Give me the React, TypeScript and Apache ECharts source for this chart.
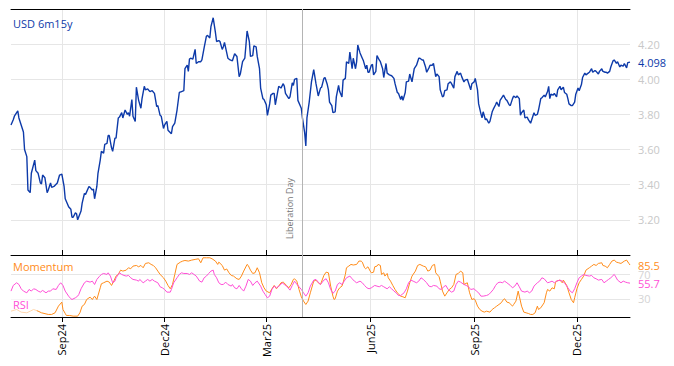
import React, { useEffect, useRef } from "react";
import * as echarts from "echarts";

// ---- data ----
const START_DATE = "2024-07-18"; // day 0 of the series
const END_DAY = 548;
const SERIES_NAME = "USD 6m15y";
const MOMENTUM_NAME = "Momentum";
const RSI_NAME = "RSI";
const quarterTicks = ["2024-09-01", "2024-12-01", "2025-03-01", "2025-06-01", "2025-09-01", "2025-12-01"];
const eventDates = ["2025-04-02"];
const eventLabels = ["Liberation Day"];
const rsiBands = [30, 70];

// [day offset, rate]
const usd: [number, number][] = [
  [0,3.74],[2,3.77],[3,3.79],[4,3.80],[6,3.82],[7,3.78],[9,3.74],[11,3.70],[12,3.60],[14,3.56],
  [15,3.37],[17,3.355],[18,3.465],[21,3.54],[22,3.48],[24,3.465],[26,3.41],[27,3.405],[28,3.455],[30,3.44],
  [32,3.355],[33,3.37],[35,3.41],[36,3.385],[38,3.39],[41,3.41],[43,3.455],[45,3.46],[47,3.39],[48,3.32],
  [50,3.29],[51,3.275],[53,3.26],[54,3.215],[55,3.215],[57,3.24],[58,3.235],[59,3.20],[62,3.25],[63,3.295],
  [65,3.35],[66,3.345],[69,3.39],[70,3.385],[72,3.37],[73,3.375],[74,3.32],[76,3.39],[77,3.465],[79,3.54],
  [80,3.59],[82,3.58],[83,3.63],[85,3.635],[86,3.68],[87,3.68],[89,3.61],[90,3.59],[92,3.665],[93,3.665],
  [95,3.78],[96,3.785],[98,3.81],[99,3.78],[101,3.825],[103,3.80],[104,3.81],[105,3.79],[107,3.885],[108,3.79],
  [110,3.76],[111,3.955],[113,3.88],[115,3.835],[116,3.89],[118,3.96],[119,3.94],[121,3.945],[123,3.93],[125,3.935],
  [127,3.92],[129,3.845],[130,3.85],[132,3.795],[133,3.79],[135,3.72],[136,3.74],[138,3.76],[139,3.71],[142,3.69],
  [143,3.73],[145,3.75],[147,3.825],[149,3.925],[151,3.93],[153,3.935],[154,4.06],[156,4.08],[157,4.045],[158,4.115],
  [159,4.12],[161,4.115],[163,4.17],[164,4.09],[166,4.10],[168,4.10],[169,4.11],[171,4.18],[173,4.245],[174,4.25],
  [176,4.235],[177,4.30],[179,4.35],[181,4.265],[182,4.215],[184,4.22],[185,4.215],[187,4.17],[188,4.185],[189,4.21],
  [192,4.12],[194,4.11],[196,4.105],[198,4.145],[200,4.13],[202,4.015],[203,4.03],[205,4.10],[207,4.12],[208,4.195],
  [209,4.275],[211,4.215],[212,4.13],[214,4.135],[215,4.19],[217,4.185],[218,4.13],[220,4.06],[221,3.95],[223,3.89],
  [224,3.885],[226,3.855],[227,3.795],[229,3.86],[230,3.91],[232,3.92],[233,3.92],[234,3.855],[236,3.925],[237,3.96],
  [239,3.95],[241,3.975],[242,3.96],[243,3.92],[246,3.89],[247,3.90],[249,3.98],[250,3.965],[251,4.00],[253,4.005],
  [254,3.88],[257,3.835],[258,3.78],[260,3.695],[261,3.62],[262,3.78],[264,3.87],[266,3.985],[268,4.055],[270,3.975],
  [272,3.905],[274,3.95],[275,3.955],[277,4.005],[278,4.01],[280,3.97],[281,3.94],[282,3.87],[284,3.85],[285,3.81],
  [287,3.815],[288,3.90],[290,3.965],[291,3.93],[293,3.90],[294,3.995],[296,4.005],[297,4.10],[299,4.09],[300,4.155],
  [302,4.06],[303,4.12],[305,4.06],[306,4.10],[307,4.195],[309,4.15],[311,4.12],[312,4.105],[314,4.06],[315,4.08],
  [316,4.04],[317,4.04],[319,4.08],[320,4.085],[321,4.025],[323,4.045],[324,4.135],[326,4.11],[327,4.10],[329,4.06],
  [330,4.01],[332,4.09],[333,4.035],[335,4.025],[337,4.02],[339,4.005],[340,3.975],[342,3.925],[343,3.92],[345,3.885],
  [346,3.905],[347,3.88],[349,3.925],[350,3.985],[352,3.99],[353,4.03],[355,3.985],[357,4.06],[359,4.08],[361,4.12],
  [362,4.12],[364,4.11],[365,4.11],[367,4.07],[368,4.04],[370,4.065],[371,4.08],[373,4.08],[374,4.09],[376,4.015],
  [377,4.03],[379,4.015],[380,3.94],[382,3.90],[383,3.905],[384,3.935],[386,3.94],[387,3.975],[389,3.985],[390,3.975],
  [392,3.95],[393,4.015],[395,4.045],[396,4.025],[398,4.035],[399,4.015],[401,3.985],[402,3.995],[404,4.00],[405,3.98],
  [407,3.94],[408,3.975],[410,3.985],[411,4.005],[413,3.94],[414,3.86],[416,3.805],[417,3.78],[418,3.815],[420,3.77],
  [421,3.775],[423,3.75],[424,3.76],[426,3.815],[427,3.83],[429,3.855],[430,3.87],[432,3.845],[433,3.88],[435,3.90],
  [436,3.91],[438,3.885],[439,3.88],[441,3.855],[442,3.85],[444,3.89],[445,3.905],[447,3.895],[448,3.905],[450,3.89],
  [451,3.795],[452,3.81],[454,3.825],[455,3.78],[457,3.785],[458,3.77],[460,3.75],[461,3.77],[463,3.81],[464,3.795],
  [466,3.80],[467,3.825],[469,3.89],[470,3.895],[472,3.91],[473,3.90],[475,3.93],[476,3.96],[477,3.89],[478,3.915],
  [480,3.91],[481,3.92],[483,3.90],[484,3.94],[486,3.96],[487,3.94],[489,3.955],[490,3.925],[492,3.915],[493,3.89],
  [494,3.86],[496,3.85],[497,3.85],[499,3.87],[500,3.915],[502,3.95],[503,3.935],[505,3.97],[506,4.01],[508,4.035],
  [509,4.025],[511,4.035],[512,4.04],[514,4.06],[515,4.04],[517,4.05],[518,4.045],[520,4.03],[521,4.045],[523,4.06],
  [524,4.045],[526,4.04],[527,4.04],[528,4.035],[530,4.045],[531,4.07],[533,4.105],[534,4.11],[536,4.09],[537,4.10],
  [539,4.07],[540,4.08],[542,4.075],[543,4.09],[545,4.065],[546,4.095],[548,4.098],
];

const momentum: [number, number][] = [
  [0,9.6],[5,12.4],[9,8],[14,6.9],[17,9.6],[20,12.4],[24,9.6],[27,6.9],[33,4.2],[36,4.2],
  [39,6.9],[42,17.9],[45,24.5],[46,12.4],[48,5.8],[49,2.5],[52,2.5],[55,1.4],[59,1.4],[61,6.9],
  [63,17.9],[65,20.6],[67,28.8],[70,32.7],[72,28.8],[74,34.3],[76,28.8],[79,48],[80,54.6],[82,56.3],
  [85,59],[87,57.4],[89,51.9],[91,59],[93,67.3],[95,70],[97,77.1],[99,75.5],[102,77.1],[104,81],
  [106,79.4],[108,83.7],[111,84.8],[113,82.6],[115,84.8],[117,81],[119,88.1],[122,89.2],[124,86.5],[126,84.8],
  [128,81],[130,75.5],[132,70],[135,64.5],[137,59],[139,51.9],[141,46.4],[143,53.5],[145,70],[147,86.5],
  [150,90.3],[152,92],[154,93],[157,92],[160,93.6],[163,94.7],[166,95.8],[168,89.2],[170,97.4],[173,97.4],
  [176,97.4],[178,95.8],[181,92],[183,86.5],[184,90.3],[187,84.8],[189,77.1],[191,79],[193,72.7],[195,68.4],
  [197,67.3],[200,62.9],[202,61.8],[204,67.3],[206,75.5],[209,86.5],[210,84.8],[212,77.1],[214,71.6],[216,72.7],
  [218,81],[220,72.7],[222,56.3],[224,48],[226,42.6],[229,39.8],[231,46.4],[233,51.9],[235,46.4],[237,50.8],
  [239,56.3],[241,57.4],[244,51.9],[246,48],[248,53.5],[250,61.8],[251,62.9],[253,59],[255,45.3],[257,33.2],
  [259,26.1],[261,20.6],[263,26.1],[265,39.8],[268,59],[270,60.7],[272,56.3],[274,53.5],[277,68.4],[279,73.8],
  [281,72.7],[283,50.8],[285,34.3],[286,28.8],[287,30],[289,42.6],[291,48],[293,50.8],[294,56.3],[296,70],
  [297,81],[299,83.7],[301,86.5],[303,85.5],[306,86.5],[308,92],[310,92],[311,90.3],[313,81],[314,79.4],
  [316,82.6],[318,75.5],[319,72.7],[321,73.8],[322,82.6],[324,83.7],[325,86.5],[327,84.8],[328,70],[330,72.7],
  [331,67.3],[333,71.6],[334,64.5],[336,59],[338,51.9],[340,45.3],[342,39.8],[345,34.3],[347,33.2],[349,31.6],
  [351,42.6],[353,56.3],[355,67.3],[358,75.5],[360,84.8],[362,86.5],[365,83.7],[367,82.6],[369,75.5],[371,77.1],
  [373,84.8],[375,86.5],[376,72.7],[379,66.2],[380,59],[382,42.6],[384,34.3],[386,39.8],[388,45.3],[390,48],
  [392,53.5],[394,70],[396,71.6],[398,75.5],[400,72.7],[401,53.5],[404,56.3],[406,39.8],[408,28.8],[410,30],
  [411,27.7],[413,17.9],[415,12.4],[417,9.6],[419,8],[421,9.6],[424,8],[426,12.4],[428,15.1],[430,17.9],
  [432,20.6],[434,23.4],[436,28.8],[437,30],[439,24.5],[441,23.4],[444,17.9],[445,20.6],[447,26.1],[449,42.6],
  [450,34.3],[452,17.9],[454,8],[456,6.9],[458,5.8],[460,4.2],[462,4.2],[464,6.9],[466,17.9],[467,12.4],
  [469,15.1],[472,23.4],[474,39.8],[475,45.3],[477,42.6],[479,48],[481,46.4],[482,56.3],[483,59],[486,60.7],
  [488,56.3],[489,60.7],[492,51.9],[494,39.8],[496,28.8],[498,23.4],[499,31.6],[501,46.4],[503,56.3],[505,61.8],
  [507,67.3],[509,77.1],[512,81],[514,83.7],[516,86.5],[518,84.8],[520,88.1],[523,89.2],[524,84.8],[526,83.7],
  [528,81],[530,86.5],[532,92],[534,93.6],[536,90.3],[538,89.2],[540,88.1],[543,92],[545,93.6],[547,88.1],
  [548,85.5],
];

const rsi: [number, number][] = [
  [0,42.6],[2,51.9],[5,56.3],[7,53.5],[9,46.4],[11,42.6],[14,39.8],[16,45.3],[18,42.6],[20,46.4],
  [22,45.3],[24,42.6],[26,40.9],[28,43.7],[31,39.8],[33,42.6],[35,42.6],[37,46.4],[40,45.3],[42,51.9],
  [44,56.3],[46,51.9],[48,42.6],[51,34.3],[53,30],[54,28.8],[57,31.6],[59,34.3],[60,37],[62,46.4],
  [65,56.3],[67,59],[70,57.4],[72,59],[74,53.5],[76,61.8],[78,66.2],[80,70],[82,71.6],[85,70],
  [86,72.7],[88,67.3],[90,56.3],[92,59],[93,64.5],[96,72.7],[98,70],[100,68.4],[102,67.3],[104,68.4],
  [106,64.5],[108,61.8],[111,60.7],[113,59],[114,61.8],[117,56.3],[119,59],[121,61.8],[123,59],[125,61.8],
  [127,59],[130,56.3],[132,49.7],[134,48],[136,45.3],[138,40.9],[141,40.9],[142,45.3],[144,56.3],[147,64.5],
  [149,70],[151,72.7],[153,71.6],[156,71.6],[158,70],[160,72.7],[162,70],[164,67.3],[167,59],[169,57.4],
  [171,64.5],[173,67.3],[175,71.6],[177,75.5],[179,77.1],[180,70],[182,64.5],[184,56.3],[186,53.5],[188,53.5],
  [190,57.4],[192,53.5],[195,50.8],[196,53.5],[198,48],[200,46.4],[202,51.9],[204,46.4],[206,42.6],[208,50.8],
  [210,61.8],[212,59],[214,51.9],[216,56.3],[218,59],[221,50.8],[223,42.6],[225,37],[227,31.6],[229,34.3],
  [231,45.3],[233,50.8],[235,48],[238,51.9],[240,56.3],[242,53.5],[244,50.8],[247,44.2],[249,51.9],[251,59],
  [252,56.3],[255,49.7],[257,45.3],[259,39.8],[261,34.3],[263,39.8],[265,50.8],[268,60.7],[270,61.8],[272,57.4],
  [274,53.5],[277,60.7],[279,62.9],[281,56.3],[283,45.3],[285,39],[287,42.6],[289,53.5],[291,56.3],[293,53.5],
  [295,59],[297,64.5],[300,67.3],[302,62.9],[304,59],[306,56.3],[309,59],[311,56.3],[313,51.9],[315,48],
  [317,46.4],[319,48],[322,51.9],[324,50.8],[326,49.7],[328,51.9],[330,49.7],[333,46.4],[335,49.7],[337,46.4],
  [339,42.6],[341,39.8],[343,35.4],[345,35.4],[348,39.8],[350,46.4],[352,56.3],[354,60.7],[356,59],[359,56.3],
  [361,59],[363,64.5],[365,61.8],[368,56.3],[370,50.8],[372,49.7],[374,51.9],[377,50.8],[379,46.4],[381,45.3],
  [383,49.7],[385,51.9],[387,45.3],[390,40.9],[392,42.6],[394,53.5],[396,59],[398,57.4],[401,53.5],[403,51.9],
  [405,49.7],[407,45.3],[410,46.4],[412,42.6],[414,39.8],[416,34.3],[418,34.3],[421,35.4],[423,37],[425,40.9],
  [427,45.3],[429,51.9],[431,56.3],[433,57.4],[435,56.3],[437,59],[439,56.3],[442,51.9],[444,48],[446,50.8],
  [448,56.3],[450,49.7],[452,42.6],[455,40.9],[457,42.6],[459,39.8],[461,42.6],[463,50.8],[466,56.3],[468,59],
  [470,64.5],[472,62.9],[475,56.3],[477,57.4],[479,59],[481,56.3],[483,59],[486,60.7],[488,59],[490,56.3],
  [492,50.8],[495,42.6],[497,39.8],[499,46.4],[501,56.3],[503,64.5],[505,67.3],[507,70],[509,68.4],[512,67.3],
  [514,68.4],[516,64.5],[518,62.9],[520,60.7],[523,61.8],[525,56.3],[527,59],[529,61.8],[531,64.5],[534,70],
  [535,67.3],[537,60.7],[540,56.3],[542,59],[544,57.4],[546,56.3],[548,55.7],
];

// ---- styling ----
const FONT = "'Open Sans', 'Noto Sans', sans-serif";
const BLUE = "#0d3aa9";
const ORANGE = "#ff8c1a";
const MAGENTA = "#ff4fd6";
const GRID = "#e6e6e6";
const MONTHS = ["Jan", "Feb", "Mar", "Apr", "May", "Jun", "Jul", "Aug", "Sep", "Oct", "Nov", "Dec"];

const DAY_MS = 86400000;
const startMs = Date.parse(START_DATE);
const toPoints = (arr: [number, number][]) => arr.map(([d, v]) => [startMs + d * DAY_MS, v]);
const tickMs = quarterTicks.map((s) => Date.parse(s));
const xMin = startMs;
const xMax = startMs + END_DAY * DAY_MS;
const fmtMonth = (v: number) => {
  const d = new Date(v);
  return MONTHS[d.getUTCMonth()] + String(d.getUTCFullYear()).slice(2);
};

export default function App() {
  const ref = useRef<HTMLDivElement>(null);
  useEffect(() => {
    if (!ref.current) return;
    const chart = echarts.init(ref.current, null, { renderer: "svg" });
    const baseX = {
      type: "value" as const,
      min: xMin,
      max: xMax,
      axisLine: { show: true, onZero: false, lineStyle: { color: "#000", width: 1 } },
    };
    chart.setOption({
      animation: false,
      backgroundColor: "#fff",
      textStyle: { fontFamily: FONT },
      title: [
        { text: SERIES_NAME, left: 13, top: 18, padding: 0, textStyle: { color: BLUE, fontSize: 11, fontWeight: "normal", fontFamily: FONT } },
        { text: MOMENTUM_NAME, left: 13, top: 261, padding: 0, textStyle: { color: ORANGE, fontSize: 11, fontWeight: "normal", fontFamily: FONT } },
        { text: RSI_NAME, left: 11, top: 294, padding: [5, 8, 6, 2], backgroundColor: "rgba(255,255,255,0.65)", textStyle: { color: MAGENTA, fontSize: 11, fontWeight: "normal", fontFamily: FONT } },
      ],
      grid: [
        { left: 11, right: 44, top: 9, height: 246 },
        { left: 11, right: 44, top: 255, height: 62 },
      ],
      xAxis: [
        {
          ...baseX,
          gridIndex: 0,
          position: "top",
          axisTick: { show: false, customValues: tickMs },
          axisLabel: { show: false, customValues: tickMs },
          splitLine: { show: true, lineStyle: { color: GRID, width: 1 } },
        },
        {
          ...baseX,
          gridIndex: 1,
          position: "bottom",
          axisTick: { show: true, inside: false, length: 5, customValues: tickMs, lineStyle: { color: "#000" } },
          axisLabel: { show: true, customValues: tickMs, rotate: 90, margin: 7, color: "#000", fontSize: 11, fontFamily: FONT, formatter: (v: number) => fmtMonth(v) },
          splitLine: { show: true, lineStyle: { color: GRID, width: 1 } },
        },
        {
          ...baseX,
          gridIndex: 1,
          position: "top",
          axisTick: { show: true, inside: false, length: 5, customValues: tickMs, lineStyle: { color: "#000" } },
          axisLabel: { show: false, customValues: tickMs },
          splitLine: { show: false },
        },
      ],
      yAxis: [
        {
          type: "value",
          gridIndex: 0,
          position: "right",
          min: 3.0,
          max: 4.4,
          interval: 0.2,
          axisLine: { show: false },
          axisTick: { show: false },
          axisLabel: { color: "#c8c8c8", fontSize: 11, fontFamily: FONT, margin: 8, showMinLabel: false, showMaxLabel: false, formatter: (v: number) => v.toFixed(2) },
          splitLine: { show: true, lineStyle: { color: GRID, width: 1 } },
        },
        {
          type: "value",
          gridIndex: 1,
          position: "right",
          min: 0,
          max: 102,
          axisLine: { show: false },
          axisTick: { show: false, customValues: rsiBands },
          axisLabel: { customValues: rsiBands, color: "#d4d4d4", fontSize: 11, fontFamily: FONT, margin: 8 },
          splitLine: { show: true, lineStyle: { color: GRID, width: 1 } },
        },
      ],
      series: [
        {
          name: SERIES_NAME,
          type: "line",
          xAxisIndex: 0,
          yAxisIndex: 0,
          data: toPoints(usd),
          showSymbol: false,
          lineStyle: { color: BLUE, width: 1.4 },
          itemStyle: { color: BLUE },
          endLabel: { show: true, color: BLUE, fontSize: 11, fontFamily: FONT, distance: 8, formatter: (p: any) => p.value[1].toFixed(3) },
          markLine: {
            silent: true,
            symbol: ["none", "none"],
            lineStyle: { color: "#b4b4b4", width: 1, type: "solid" },
            data: eventDates.map((d, i) => ({
              xAxis: Date.parse(d),
              label: { show: true, formatter: eventLabels[i], position: "insideStartTop", color: "#777", fontSize: 9, fontFamily: FONT, distance: 8, padding: [0, 0, 0, 8] },
            })),
          },
          z: 3,
        },
        {
          name: MOMENTUM_NAME,
          type: "line",
          xAxisIndex: 1,
          yAxisIndex: 1,
          data: toPoints(momentum),
          showSymbol: false,
          lineStyle: { color: ORANGE, width: 1 },
          itemStyle: { color: ORANGE },
          endLabel: { show: true, color: ORANGE, fontSize: 11, fontFamily: FONT, distance: 8, formatter: (p: any) => p.value[1].toFixed(1) },
          markLine: {
            silent: true,
            symbol: ["none", "none"],
            label: { show: false },
            lineStyle: { color: "#b4b4b4", width: 1, type: "solid" },
            data: eventDates.map((d) => ({ xAxis: Date.parse(d) })),
          },
        },
        {
          name: RSI_NAME,
          type: "line",
          xAxisIndex: 1,
          yAxisIndex: 1,
          data: toPoints(rsi),
          showSymbol: false,
          lineStyle: { color: MAGENTA, width: 1 },
          itemStyle: { color: MAGENTA },
          endLabel: { show: true, color: MAGENTA, fontSize: 11, fontFamily: FONT, distance: 8, formatter: (p: any) => p.value[1].toFixed(1) },
        },
      ],
    });
    return () => chart.dispose();
  }, []);
  return <div ref={ref} style={{ position: "fixed", left: 0, top: 0, width: 674, height: 366 }} />;
}
